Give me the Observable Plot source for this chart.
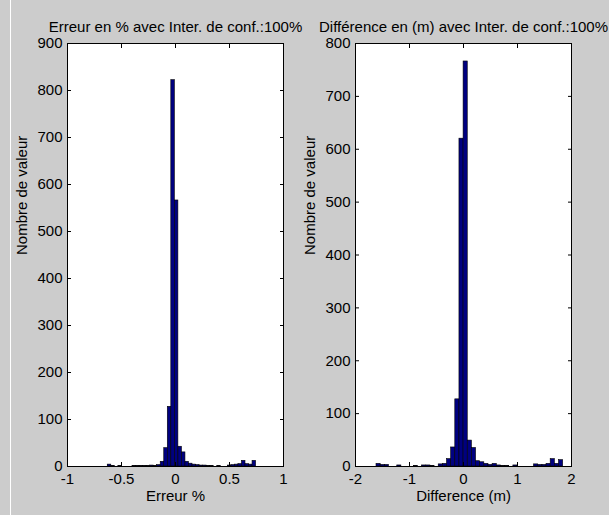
<!DOCTYPE html>
<html><head><meta charset="utf-8">
<script src="https://cdn.jsdelivr.net/npm/d3@7"></script>
<script src="https://cdn.jsdelivr.net/npm/@observablehq/plot@0.6"></script>
<style>
html,body{margin:0;padding:0;background:#cccccc;}
#fig{position:relative;width:609px;height:515px;background:#cccccc;overflow:hidden;font-family:"Liberation Sans",Arial,sans-serif;}
#edge{position:absolute;left:10px;top:0;width:1px;height:515px;background:#ffffff;}
.panel{position:absolute;top:0;}
.panel svg{overflow:visible;}
</style></head><body>
<div id="fig"><div id="edge"></div><div id="pl" class="panel" style="left:0px"></div><div id="pr" class="panel" style="left:300px"></div></div>
<script>
const leftTitle = "Erreur en % avec Inter. de conf.:100%";
const rightTitle = "Différence en (m) avec Inter. de conf.:100%";
const yLabel = "Nombre de valeur";
const leftXLabel = "Erreur %";
const rightXLabel = "Difference (m)";

const leftXTicks = [-1, -0.5, 0, 0.5, 1];
const leftYTicks = [0, 100, 200, 300, 400, 500, 600, 700, 800, 900];
const rightXTicks = [-2, -1, 0, 1, 2];
const rightYTicks = [0, 100, 200, 300, 400, 500, 600, 700, 800];

// histogram bins: first edge, bin width, counts per bin
const leftBinStart = -0.66;
const leftBinWidth = 0.0327;
const leftCounts = [0,4,1,0,1,0,0,0,1,1,1,1,1,2,1,3,10,39,127,822,566,42,30,10,6,4,3,2,2,1,1,0,1,0,0,2,3,4,5,12,5,4,12];

const rightBinStart = -1.611;
const rightBinWidth = 0.0768;
const rightCounts = [5,3,3,0,0,2,0,0,0,1,0,2,2,1,0,4,5,14,36,127,620,766,49,35,10,8,5,3,5,2,1,1,0,2,0,0,0,0,4,3,3,5,14,5,12];

function bins(start, w, counts) {
  return counts.map((n, i) => ({x1: start + i * w, x2: start + (i + 1) * w, n}));
}

function panel({width, marginLeft, marginRight, xDomain, yDomain, xTicks, yTicks, data, title, xLabel}) {
  return Plot.plot({
    width, height: 515,
    marginTop: 43, marginBottom: 49, marginLeft, marginRight,
    style: {background: "transparent", fontFamily: "'Liberation Sans', Arial, sans-serif", fontSize: "15px", color: "black", overflow: "visible"},
    x: {domain: xDomain},
    y: {domain: yDomain},
    marks: [
      Plot.frame({fill: "white"}),
      Plot.rectY(data, {x1: "x1", x2: "x2", y: "n", fill: "#000080", stroke: "black", strokeWidth: 0.6}),
      Plot.frame({stroke: "black"}),
      Plot.axisX(xTicks, {anchor: "bottom", tickSize: -4, tickPadding: 11, tickFormat: d => String(d), label: null}),
      Plot.axisX(xTicks, {anchor: "top", tickSize: -4, tickFormat: () => "", label: null}),
      Plot.axisY(yTicks, {anchor: "left", tickSize: -4, tickPadding: 9, tickFormat: d => String(d), label: null}),
      Plot.axisY(yTicks, {anchor: "right", tickSize: -4, tickFormat: () => "", label: null}),
      Plot.text([title], {frameAnchor: "top", dy: -22, fontSize: 15}),
      Plot.text([xLabel], {frameAnchor: "bottom", dy: 34, fontSize: 15}),
      Plot.text([yLabel], {frameAnchor: "left", rotate: -90, dx: -45, fontSize: 15})
    ]
  });
}

document.getElementById("pl").appendChild(panel({
  width: 300, marginLeft: 67, marginRight: 17,
  xDomain: [-1, 1], yDomain: [0, 900], xTicks: leftXTicks, yTicks: leftYTicks,
  data: bins(leftBinStart, leftBinWidth, leftCounts), title: leftTitle, xLabel: leftXLabel
}));
document.getElementById("pr").appendChild(panel({
  width: 309, marginLeft: 55, marginRight: 38,
  xDomain: [-2, 2], yDomain: [0, 800], xTicks: rightXTicks, yTicks: rightYTicks,
  data: bins(rightBinStart, rightBinWidth, rightCounts), title: rightTitle, xLabel: rightXLabel
}));
</script>
</body></html>
